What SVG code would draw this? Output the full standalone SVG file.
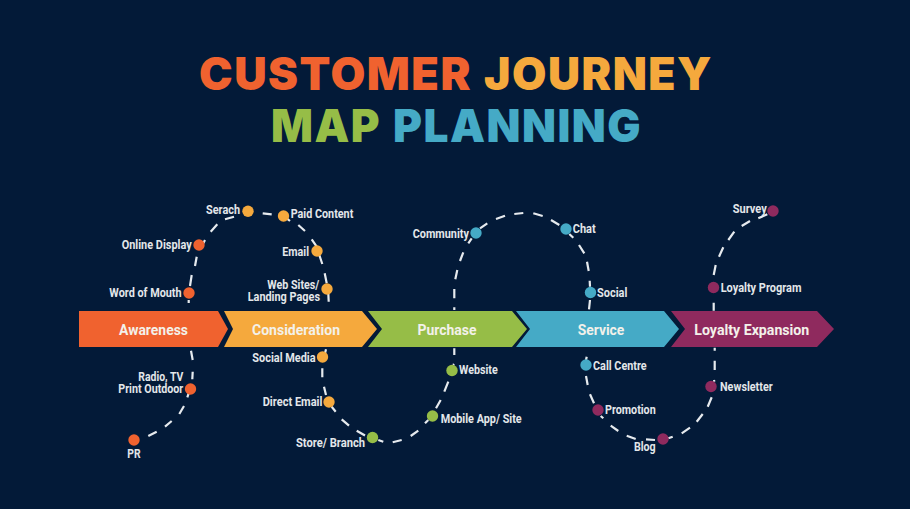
<svg xmlns="http://www.w3.org/2000/svg" width="910" height="509" viewBox="0 0 910 509">
<style>
.t{font-family:Inter,"Noto Sans",sans-serif;font-weight:900;font-size:45px;letter-spacing:1.5px}
.l{font-family:Roboto,"Liberation Sans",sans-serif;font-weight:700;font-size:12px;fill:#e3e7ea}
.a{font-family:Roboto,"Liberation Sans",sans-serif;font-weight:700;font-size:14.5px;fill:#f3f1ea}
.o{fill:#f0622f}.y{fill:#f5a93d}.g{fill:#96bd47}.b{fill:#45aac6}.p{fill:#8f2a5e}
circle{stroke:none}
</style>
<rect width="910" height="509" fill="#031a38"/>
<g id="title">
<text class="t o" x="199" y="90" textLength="273" lengthAdjust="spacingAndGlyphs">CUSTOMER</text>
<text class="t y" x="484" y="90" textLength="229" lengthAdjust="spacingAndGlyphs">JOURNEY</text>
<text class="t g" x="271" y="142" textLength="110" lengthAdjust="spacingAndGlyphs">MAP</text>
<text class="t b" x="393" y="142" textLength="249" lengthAdjust="spacingAndGlyphs">PLANNING</text>
</g>
<g id="connectors">
<path fill="none" stroke="#e6eaee" stroke-width="2.2" d="M148.300 436L156.700 431.700M165 426.700L171.700 421M179.300 414L184 406M187.300 397.300L189.300 391.700M192.300 379.300L192.700 371.700M191 350.700L192.700 360M188.700 303L188.700 300M190 286L191.700 275M195 266L196.700 256.700M203.300 243.300L205 240M210.700 231.700L217.300 224.300M225 219.300L234 216.700M262.700 213.300L271.700 214.300M286.700 218.300L290 221M298.300 225L305 231M311.700 239.300L316.700 246.700M319.300 255L322.300 264M324.700 273.300L326.700 283.300M328.300 293.300L328.700 301.700M326 349.300L325 353.300M322.300 368.300L322.300 377.300M324 386.700L326 395M331.700 406.700L335.700 411.700M341.700 419.300L349 425.700M356.700 430.700L365 435.500M378.300 440L383.300 441.700M392.700 442.300L401.700 440M410.700 436L418.300 430.700M425 423.300L428.300 420M436 408.300L440.700 400M444.300 391.700L448.300 381.700M453.300 365L454 364M454.300 355L454.300 348.300M454.300 310L454.300 307.300M454.300 298.300L454.300 289M455.300 279.300L457.300 270M460 261L463.300 252.300M468.300 243.300L471.700 238.300M480 228.300L487.300 223.300M496 219L505 215.700M514.300 214L523.300 213M533.300 213.300L542.700 216M551 220L559.300 225M569.300 234L573.300 237.700M579 245L584.300 253.300M587 261.700L588.700 271M589.700 280.700L590 286.700M590 300L589 309.300M586.700 356.700L586 360M586 376L587.700 385M590 394.300L594 403.300M600.700 416L603.300 418.300M610.700 425.700L618.300 431M626.700 435.700L635.700 439M646 439.300L655 440M668.300 438.300L672.700 436.700M681.700 433.300L690 427.700M696.700 421.700L702.700 414M707.700 406.700L711.700 397.300M714 380L714.300 381.700M714.700 370L714.700 360.700M714.700 350.700L714.700 347.700M713.700 310.700L713.700 302.700M713.700 275L715.700 265M719 256.700L723.300 247.300M728.300 240L734.300 231.700M741.700 226L750 221M758.300 218.300L767.300 214.300"/>
</g>
<g id="stage-awareness"><path class="o" d="M79 311H218L228 329L218 347H79Z"/><text class="a" x="119" y="334.500" textLength="69" lengthAdjust="spacingAndGlyphs">Awareness</text></g>
<g id="stage-consideration"><path class="y" d="M224 311H362L377 329L362 347H224L233 329Z"/><text class="a" x="252" y="334.500" textLength="88" lengthAdjust="spacingAndGlyphs">Consideration</text></g>
<g id="stage-purchase"><path class="g" d="M368 311H512L527 329L512 347H368L382 329Z"/><text class="a" x="417.500" y="334.500" textLength="59" lengthAdjust="spacingAndGlyphs">Purchase</text></g>
<g id="stage-service"><path class="b" d="M516 311H664L679 329L664 347H516L530 329Z"/><text class="a" x="577.700" y="334.500" textLength="46.600" lengthAdjust="spacingAndGlyphs">Service</text></g>
<g id="stage-loyalty"><path class="p" d="M671 311H817L834 329L817 347H671L685 329Z"/><text class="a" x="694.300" y="334.500" textLength="115" lengthAdjust="spacingAndGlyphs">Loyalty Expansion</text></g>
<g id="pr"><circle class="o" cx="134" cy="440" r="5.700"/><text class="l" x="127.300" y="458.300" textLength="13.300" lengthAdjust="spacingAndGlyphs">PR</text></g>
<g id="radio"><circle class="o" cx="190.500" cy="389" r="5.700"/><text class="l" x="138.300" y="381" textLength="45" lengthAdjust="spacingAndGlyphs">Radio, TV</text><text class="l" x="118.300" y="393.300" textLength="65" lengthAdjust="spacingAndGlyphs">Print Outdoor</text></g>
<g id="word"><circle class="o" cx="189" cy="293" r="5.700"/><text class="l" x="109.300" y="296.700" textLength="72.300" lengthAdjust="spacingAndGlyphs">Word of Mouth</text></g>
<g id="online"><circle class="o" cx="199" cy="245" r="5.700"/><text class="l" x="121.700" y="249.300" textLength="70" lengthAdjust="spacingAndGlyphs">Online Display</text></g>
<g id="serach"><circle class="y" cx="248" cy="211.300" r="5.700"/><text class="l" x="206" y="214.300" textLength="34" lengthAdjust="spacingAndGlyphs">Serach</text></g>
<g id="paid"><circle class="y" cx="283.500" cy="216" r="5.700"/><text class="l" x="290.700" y="218" textLength="62.600" lengthAdjust="spacingAndGlyphs">Paid Content</text></g>
<g id="email"><circle class="y" cx="317" cy="251" r="5.700"/><text class="l" x="282.300" y="255.700" textLength="26.700" lengthAdjust="spacingAndGlyphs">Email</text></g>
<g id="web"><circle class="y" cx="327" cy="289" r="5.700"/><text class="l" x="267.300" y="288.700" textLength="52" lengthAdjust="spacingAndGlyphs">Web Sites/</text><text class="l" x="247.700" y="301" textLength="72.300" lengthAdjust="spacingAndGlyphs">Landing Pages</text></g>
<g id="social-media"><circle class="y" cx="322.500" cy="357" r="5.700"/><text class="l" x="252.300" y="361.500" textLength="63.300" lengthAdjust="spacingAndGlyphs">Social Media</text></g>
<g id="direct"><circle class="y" cx="329" cy="402" r="5.700"/><text class="l" x="262.700" y="406" textLength="59.700" lengthAdjust="spacingAndGlyphs">Direct Email</text></g>
<g id="store"><circle class="g" cx="372.500" cy="437.500" r="5.700"/><text class="l" x="296" y="446.500" textLength="69" lengthAdjust="spacingAndGlyphs">Store/ Branch</text></g>
<g id="mobile"><circle class="g" cx="432.500" cy="416" r="5.700"/><text class="l" x="440.700" y="423" textLength="81" lengthAdjust="spacingAndGlyphs">Mobile App/ Site</text></g>
<g id="website"><circle class="g" cx="452" cy="370.500" r="5.700"/><text class="l" x="459" y="374.300" textLength="38.700" lengthAdjust="spacingAndGlyphs">Website</text></g>
<g id="community"><circle class="b" cx="476" cy="233" r="5.700"/><text class="l" x="412.700" y="237.500" textLength="56.300" lengthAdjust="spacingAndGlyphs">Community</text></g>
<g id="chat"><circle class="b" cx="566" cy="229" r="5.700"/><text class="l" x="572.700" y="232.700" textLength="23" lengthAdjust="spacingAndGlyphs">Chat</text></g>
<g id="social"><circle class="b" cx="590.500" cy="292.500" r="5.700"/><text class="l" x="597" y="297" textLength="30.300" lengthAdjust="spacingAndGlyphs">Social</text></g>
<g id="call"><circle class="b" cx="586" cy="365" r="5.700"/><text class="l" x="593" y="370" textLength="53.700" lengthAdjust="spacingAndGlyphs">Call Centre</text></g>
<g id="promotion"><circle class="p" cx="598" cy="410" r="5.700"/><text class="l" x="605" y="414.300" textLength="50.700" lengthAdjust="spacingAndGlyphs">Promotion</text></g>
<g id="blog"><circle class="p" cx="663" cy="439" r="5.700"/><text class="l" x="634" y="451" textLength="21.700" lengthAdjust="spacingAndGlyphs">Blog</text></g>
<g id="newsletter"><circle class="p" cx="711" cy="386.500" r="5.700"/><text class="l" x="720" y="391" textLength="52.700" lengthAdjust="spacingAndGlyphs">Newsletter</text></g>
<g id="loyalty"><circle class="p" cx="713.500" cy="287.500" r="5.700"/><text class="l" x="720.700" y="291.500" textLength="80.700" lengthAdjust="spacingAndGlyphs">Loyalty Program</text></g>
<g id="survey"><circle class="p" cx="773" cy="211" r="5.700"/><text class="l" x="732.700" y="212.700" textLength="34" lengthAdjust="spacingAndGlyphs">Survey</text></g>
</svg>
